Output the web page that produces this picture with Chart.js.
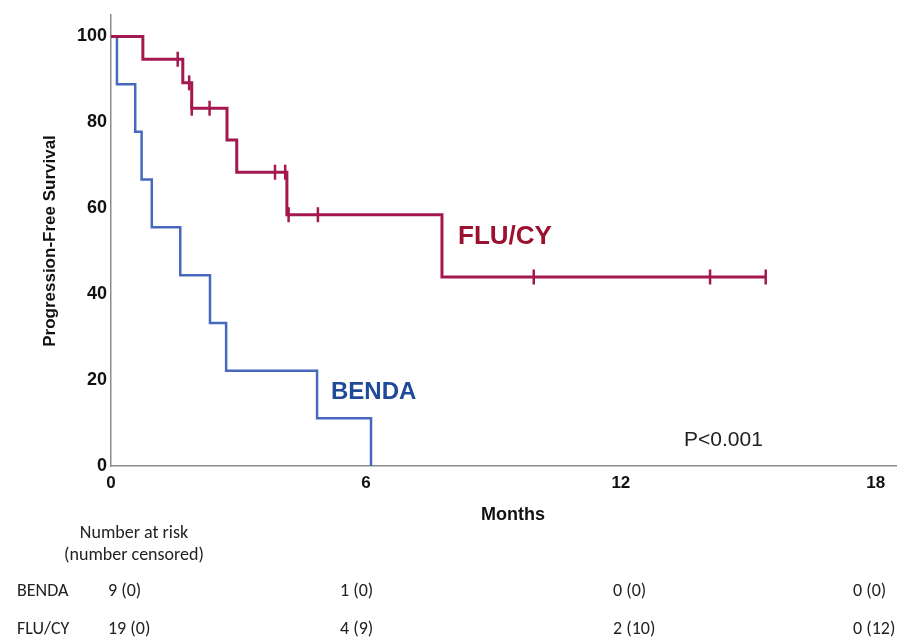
<!DOCTYPE html>
<html lang="en">
<head>
  <meta charset="UTF-8">
  <title>Progression-Free Survival</title>
  <style>
    html, body { margin: 0; padding: 0; background: #fff; }
    #wrap { width: 897px; height: 641px; }
  </style>
</head>
<body>
  <div id="wrap"><canvas id="myChart" width="897" height="641"></canvas></div>
  <script src="https://cdn.jsdelivr.net/npm/chart.js"></script>
  <script>
    // Kaplan-Meier steps (months, % survival)
    var bendaTime = [0, 0.14, 0.57, 0.72, 0.96, 1.63, 2.33, 2.71, 4.85, 6.12];
    var bendaSurv = [100, 88.9, 77.8, 66.7, 55.6, 44.4, 33.3, 22.2, 11.1, 0];

    var fluTime = [0, 0.75, 1.69, 1.90, 2.73, 2.96, 4.14, 7.79, 15.41];
    var fluSurv = [100, 94.7, 89.2, 83.3, 75.9, 68.4, 58.5, 44.0, 44.0];

    // censored observations
    var fluCensorTime = [1.57, 1.84, 1.90, 2.32, 3.86, 4.10, 4.18, 4.87, 9.95, 14.10, 15.41];
    var fluCensorSurv = [94.7, 89.2, 83.3, 83.3, 68.4, 68.4, 58.5, 58.5, 44.0, 44.0, 44.0];

    // axis ticks
    var xTicks = [0, 6, 12, 18];
    var yTicks = [0, 20, 40, 60, 80, 100];

    // number at risk table
    var riskGroups = ['BENDA', 'FLU/CY'];
    var bendaAtRisk = [9, 1, 0, 0];
    var bendaCensored = [0, 0, 0, 0];
    var fluAtRisk = [19, 4, 2, 0];
    var fluCensored = [0, 9, 10, 12];

    function toPoints(xs, ys) {
      return xs.map(function(x, i) { return {x: x, y: ys[i]}; });
    }

    var red = '#a2184f';
    var blue = '#4669bd';

    var textPlugin = {
      id: 'kmText',
      afterDraw: function(chart) {
        var ctx = chart.ctx;
        ctx.save();
        ctx.fillStyle = '#111';

        // axis titles
        ctx.font = 'bold 18px "Liberation Sans", Arial, sans-serif';
        ctx.textAlign = 'center';
        ctx.textBaseline = 'middle';
        ctx.fillText('Months', 513, 515);
        ctx.save();
        ctx.translate(50, 241);
        ctx.rotate(-Math.PI / 2);
        ctx.font = 'bold 17px "Liberation Sans", Arial, sans-serif';
        ctx.fillText('Progression-Free Survival', 0, 0);
        ctx.restore();

        // curve labels
        ctx.textAlign = 'left';
        ctx.textBaseline = 'alphabetic';
        ctx.font = 'bold 26px "Liberation Sans", Arial, sans-serif';
        ctx.fillStyle = '#9c1030';
        ctx.fillText('FLU/CY', 458, 244);
        ctx.font = 'bold 24px "Liberation Sans", Arial, sans-serif';
        ctx.fillStyle = '#1f4a98';
        ctx.fillText('BENDA', 331, 399);

        ctx.fillStyle = '#222';
        ctx.font = '21px "Liberation Sans", Arial, sans-serif';
        ctx.fillText('P<0.001', 684, 446);

        // risk table
        ctx.font = '18px Carlito, "Liberation Sans Narrow", "DejaVu Sans Condensed", sans-serif';
        ctx.fillStyle = '#222';
        ctx.textBaseline = 'middle';
        ctx.textAlign = 'center';
        ctx.fillText('Number at risk', 134, 533);
        ctx.fillText('(number censored)', 134, 555);

        var colX = [108, 340, 613, 853];
        var rows = [
          {y: 591, risk: bendaAtRisk, cens: bendaCensored},
          {y: 629, risk: fluAtRisk, cens: fluCensored}
        ];
        ctx.textAlign = 'left';
        rows.forEach(function(r, i) {
          ctx.fillText(riskGroups[i], 17, r.y);
          r.risk.forEach(function(n, j) {
            ctx.fillText(n + ' (' + r.cens[j] + ')', colX[j], r.y);
          });
        });
        ctx.restore();
      }
    };

    var ctx = document.getElementById('myChart').getContext('2d');
    var myChart = new Chart(ctx, {
      type: 'scatter',
      data: {
        datasets: [
          {
            label: 'FLU/CY',
            type: 'line',
            data: toPoints(fluTime, fluSurv),
            stepped: 'before',
            borderColor: red,
            borderWidth: 3,
            pointRadius: 0,
            fill: false
          },
          {
            label: 'BENDA',
            type: 'line',
            data: toPoints(bendaTime, bendaSurv),
            stepped: 'before',
            borderColor: blue,
            borderWidth: 2.5,
            pointRadius: 0,
            fill: false
          },
          {
            label: 'FLU/CY censored',
            data: toPoints(fluCensorTime, fluCensorSurv),
            pointStyle: 'line',
            rotation: 90,
            pointRadius: 7.5,
            pointBorderWidth: 2.5,
            borderColor: red,
            backgroundColor: red
          }
        ]
      },
      options: {
        responsive: false,
        animation: false,
        layout: { autoPadding: false, padding: { top: 15, left: 0, right: 0, bottom: 0 } },
        plugins: {
          legend: { display: false },
          tooltip: { enabled: false }
        },
        scales: {
          x: {
            type: 'linear',
            min: 0,
            max: 18.5,
            grid: { display: false, drawTicks: false },
            border: { display: true, color: '#8c8c8c', width: 1.5 },
            afterBuildTicks: function(scale) {
              scale.ticks = xTicks.map(function(v) { return {value: v}; });
            },
            afterFit: function(scale) {
              scale.height = 175;
              scale.paddingLeft = 0;
              scale.paddingRight = 0;
            },
            ticks: {
              padding: 7,
              color: '#111',
              font: { family: '"Liberation Sans", Arial, sans-serif', size: 17, weight: 'bold' }
            }
          },
          y: {
            min: 0,
            max: 105,
            grid: { display: false, drawTicks: false },
            border: { display: true, color: '#8c8c8c', width: 1.5 },
            afterBuildTicks: function(scale) {
              scale.ticks = yTicks.map(function(v) { return {value: v}; });
            },
            afterFit: function(scale) {
              scale.width = 111;
              scale.paddingTop = 0;
              scale.paddingBottom = 0;
            },
            ticks: {
              padding: 4,
              color: '#111',
              font: { family: '"Liberation Sans", Arial, sans-serif', size: 18, weight: 'bold' }
            }
          }
        }
      },
      plugins: [textPlugin]
    });
  </script>
</body>
</html>
